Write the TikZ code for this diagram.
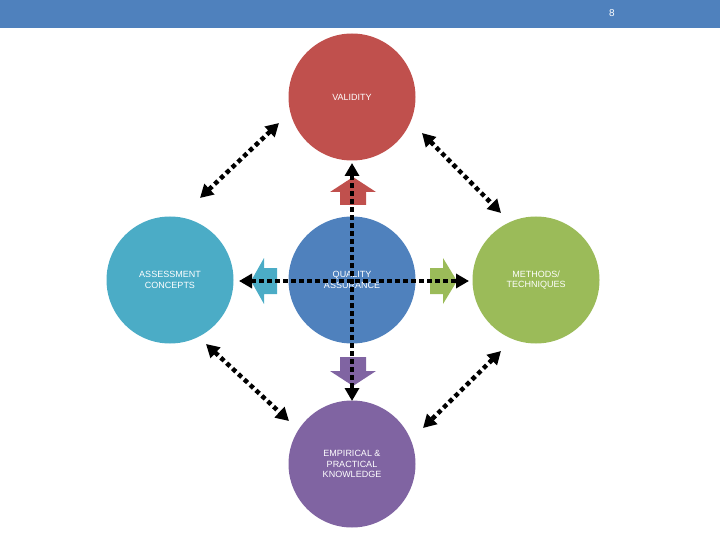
\documentclass[tikz,border=0pt]{standalone}
\usepackage{fontspec}
\setmainfont{Liberation Sans}
\usetikzlibrary{arrows.meta}
\definecolor{barblue}{HTML}{4F81BD}
\definecolor{cred}{HTML}{C0504D}
\definecolor{cblue}{HTML}{4F81BD}
\definecolor{ccyan}{HTML}{4BACC6}
\definecolor{cgreen}{HTML}{9BBB59}
\definecolor{cpurple}{HTML}{8064A2}
\begin{document}
\begin{tikzpicture}[x=1pt,y=-1pt,
  circ/.style={circle,minimum size=127pt,inner sep=0pt,text=white,font=\fontsize{9}{10.5}\selectfont,align=center},
  dots/.style={line width=4.5pt,dash pattern=on 4.5pt off 3.5pt,{Triangle[length=13pt,width=14pt]}-{Triangle[length=13pt,width=14pt]}}]
\useasboundingbox (0,0) rectangle (720,540);
\fill[barblue] (0,0) rectangle (720,28);
\node[text=white,font=\fontsize{10}{12}\selectfont] (pg) at (612,13) {8};
\node[circ,fill=cred] (v) at (352,97) {VALIDITY};
\node[circ,fill=cblue] (q) at (352,280) {QUALITY\\ASSURANCE};
\node[circ,fill=ccyan] (a) at (170,280) {ASSESSMENT\\CONCEPTS};
\node[circ,fill=cgreen] (m) at (536,280) {METHODS/\\TECHNIQUES};
\node[circ,fill=cpurple] (e) at (352,464) {EMPIRICAL \&\\PRACTICAL\\KNOWLEDGE};
% block arrows
\fill[cred] (340,205)--(366,205)--(366,192)--(376,192)--(353,177)--(330,192)--(340,192)--cycle;
\fill[cpurple] (340,357)--(366,357)--(366,371)--(376,371)--(353,386)--(330,371)--(340,371)--cycle;
\fill[ccyan] (277,268)--(277,294)--(264,294)--(264,304)--(251,281)--(264,258)--(264,268)--cycle;
\fill[cgreen] (430,268)--(430,294)--(443,294)--(443,304)--(457,281)--(443,258)--(443,268)--cycle;
% dotted connectors
\coordinate (vt) at (352,163);
\coordinate (vb) at (352,401);
\coordinate (hl) at (239,281);
\coordinate (hr) at (469,281);
\draw[dots] (vt)--(vb);
\draw[dots] (hl)--(hr);
\draw[dots] (200,198)--(279,123);
\draw[dots] (422,133)--(501,213);
\draw[dots] (206,344)--(289,421);
\draw[dots] (501,351)--(423,428);
\end{tikzpicture}
\end{document}
